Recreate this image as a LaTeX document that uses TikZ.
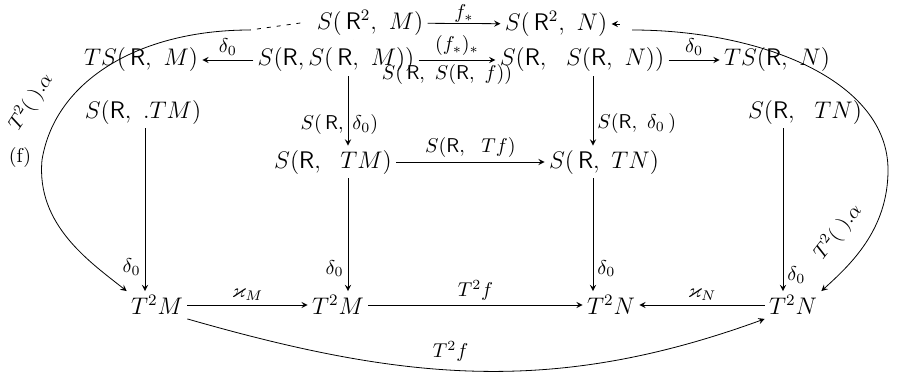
\documentclass[tikz,border=0pt]{standalone}
\usepackage{amssymb}
\begin{document}
\begin{tikzpicture}[x=0.5pt, y=-0.5pt, font=\large, >=stealth,
  obj/.style={inner sep=2pt},
  eq/.style={double, double distance=1.6pt},
  lbl/.style={inner sep=2pt, font=\normalsize}]
  \useasboundingbox (0,0) rectangle (897,385);
  % objects
  \node[obj] (r2m) at (370,23) {$S(\,\mathsf{R}^2,\ M)$};
  \node[obj] (r2n) at (556,24) {$S(\,\mathsf{R}^2,\ N)$};
  \node[obj] (tsm) at (141,60) {$TS(\,\mathsf{R},\ M)$};
  \node[obj] (ssm) at (336,60) {$S(\mathsf{R},S(\,\mathsf{R},\ M))$};
  \node[obj] (ssn) at (582,60) {$S(\mathsf{R},\ \ S(\mathsf{R},\ N))$};
  \node[obj] (tsn) at (777,60) {$TS(\mathsf{R},\ N)$};
  \node[obj] (stmA) at (143,112) {$S(\mathsf{R},\ .TM)$};
  \node[obj] (stnA) at (805,112) {$S(\mathsf{R},\ \ TN)$};
  \node[obj] (stm) at (333,162) {$S(\mathsf{R},\ \ TM)$};
  \node[obj] (stn) at (604,162) {$S(\,\mathsf{R},\ TN)$};
  \node[obj] (ttmA) at (157,305) {$T^2M$};
  \node[obj] (ttm) at (338,305) {$T^2M$};
  \node[obj] (ttn) at (611,305) {$T^2N$};
  \node[obj] (ttnA) at (793,305) {$T^2N$};
  % equalities
  \draw[eq] ([xshift=-9pt]r2m.south) -- ([xshift=-9pt]r2m.south |- ssm.north);
  \draw[eq] ([xshift=15pt]r2n.south) -- ([xshift=15pt]r2n.south |- ssn.north);
  \draw[eq] ([xshift=2pt]tsm.south) -- ([xshift=2pt]tsm.south |- stmA.north);
  \draw[eq] ([xshift=3pt]tsn.south) -- ([xshift=3pt]tsn.south |- stnA.north);
  % horizontal arrows
  \draw[->] (r2m) -- node[lbl, above, inner sep=.5pt]{$f_*$} (r2n);
  \draw[->] (ssm) -- node[lbl, above]{$\delta_0$} (tsm);
  \draw[->] (ssm) -- node[lbl, above]{$(f_*)_*$}
    node[lbl, below, xshift=-5pt]{$S(\,\mathsf{R},\ S(\mathsf{R},\ f))$} (ssn);
  \draw[->] (ssn) -- node[lbl, above]{$\delta_0$} (tsn);
  \draw[->] (stm) -- node[lbl, above]{$S(\mathsf{R},\ \ Tf)$} (stn);
  \draw[->] (ttmA) -- node[lbl, above]{$\varkappa_M$} (ttm);
  \draw[->] (ttm) -- node[lbl, above]{$T^2f$} (ttn);
  \draw[->] (ttnA) -- node[lbl, above]{$\varkappa_N$} (ttn);
  % vertical arrows
  \draw[->] ([xshift=6pt]ssm.south) -- ([xshift=6pt]ssm.south |- stm.north)
    node[lbl, pos=.7, left]{$S(\,\mathsf{R},$} node[lbl, pos=.7, right]{$\delta_0)$};
  \draw[->] ([xshift=5.5pt]ssn.south) -- ([xshift=5.5pt]ssn.south |- stn.north)
    node[lbl, pos=.68, right]{$S(\mathsf{R},\ \delta_0\,)$};
  \draw[->] ([xshift=1pt]stmA.south) -- ([xshift=1pt]stmA.south |- ttmA.north)
    node[lbl, pos=.85, left]{$\delta_0$};
  \draw[->] ([xshift=7.5pt]stm.south) -- ([xshift=7.5pt]stm.south |- ttm.north)
    node[lbl, pos=.8, left]{$\delta_0$};
  \draw[->] ([xshift=-5.5pt]stn.south) -- ([xshift=-5.5pt]stn.south |- ttn.north)
    node[lbl, pos=.8, right]{$\delta_0$};
  \draw[->] ([xshift=-11pt]stnA.south) -- ([xshift=-11pt]stnA.south |- ttnA.north)
    node[lbl, pos=.9, right]{$\delta_0$};
  % big curves
  \draw[->] (ttmA.south east) to[out=-16, in=200]
    node[lbl, pos=.45, above=2pt]{$T^2f$} (ttnA.south west);
  \coordinate (lstart) at (250,30);
  \draw[dash pattern=on 2pt off 3pt] ([xshift=-6pt]r2m.west) -- (lstart);
  \draw[->] (lstart) .. controls (140,30) and (55,80) .. (42,160)
    .. controls (36,225) and (90,262) .. (ttmA.north west);
  \coordinate (rstart) at (632,30);
  \draw[<-] (r2n.east) -- ([xshift=4pt]r2n.east);
  \draw[->] (rstart) .. controls (760,30) and (888,80) .. (888,170)
    .. controls (888,230) and (850,265) .. (ttnA.north east);
  \node[lbl, rotate=57] (alphaL) at (31,102) {$T^2(\ ).\alpha$};
  \node[lbl] (fL) at (20,157) {(f)};
  \node[lbl, rotate=52] (alphaR) at (838,232) {$T^2(\ ).\alpha$};
\end{tikzpicture}
\end{document}
